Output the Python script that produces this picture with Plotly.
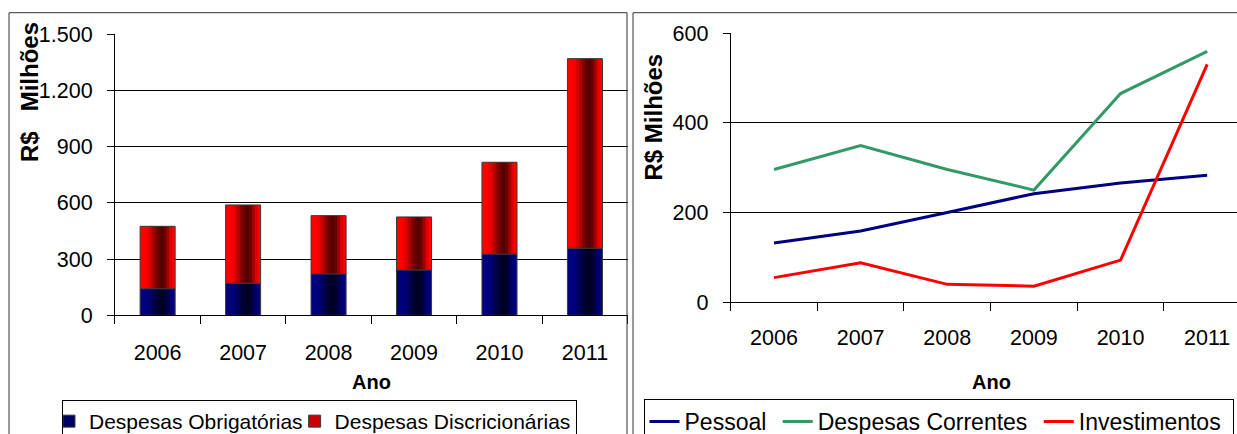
import plotly.graph_objects as go

# ---------------- data ----------------
years = ["2006", "2007", "2008", "2009", "2010", "2011"]
obrigatorias = [142, 171, 221, 242, 327, 358]
discricionarias = [333, 418, 311, 283, 490, 1012]

pessoal = [132, 159, 200, 242, 266, 283]
correntes = [296, 349, 296, 250, 465, 559]
investimentos = [55, 88, 40, 36, 94, 530]

left_yticks = [0, 300, 600, 900, 1200, 1500]
right_yticks = [0, 200, 400, 600]

# ---------------- style ----------------
W, H = 1237, 434
FONT = "Liberation Sans, Arial, sans-serif"
BAR_W = 0.41
N_STRIPS = 12
NBSP = "\u00a0"


def lerp(c1, c2, t):
    return "rgb(%d,%d,%d)" % tuple(round(a + (b - a) * t) for a, b in zip(c1, c2))


def darkness(p):
    peak = 0.63
    half = 0.5 if p < peak else 0.34
    t = 1 - abs(p - peak) / half
    t = max(0.0, min(1.0, t))
    return t * t * (3 - 2 * t)


BLUE_EDGE, BLUE_DARK = (0, 0, 128), (0, 0, 36)
RED_EDGE, RED_DARK = (255, 0, 0), (85, 0, 0)

fig = go.Figure()


def add_gradient_bar(values, base, name, edge, dark):
    step = BAR_W / N_STRIPS
    for k in range(N_STRIPS):
        p = (k + 0.5) / N_STRIPS
        col = lerp(edge, dark, darkness(p))
        wk = step * 1.6 if k < N_STRIPS - 1 else step
        fig.add_trace(go.Bar(
            x=years, y=values, base=base,
            width=wk, offset=-BAR_W / 2 + k * step,
            marker=dict(color=col, line=dict(width=0)),
            name=name, legendgroup=name, showlegend=False,
            xaxis="x", yaxis="y", hoverinfo="skip",
        ))
    # outline of the whole bar segment
    fig.add_trace(go.Bar(
        x=years, y=values, base=base, width=BAR_W, offset=-BAR_W / 2,
        marker=dict(color="rgba(0,0,0,0)", line=dict(width=1, color="#3a3a3a")),
        name=name, legendgroup=name, showlegend=False,
        xaxis="x", yaxis="y",
    ))
    # legend entry (invisible on the plot)
    fig.add_trace(go.Bar(
        x=years, y=values, base=base, width=BAR_W, offset=-BAR_W / 2,
        marker=dict(color=lerp(edge, dark, 0.3), line=dict(width=1, color="#3a3a3a"),
                    opacity=0.0),
        name=name, legendgroup=name, showlegend=True, legend="legend",
        xaxis="x", yaxis="y", hoverinfo="skip",
    ))


add_gradient_bar(obrigatorias, [0] * len(years), "Despesas Obrigatórias", BLUE_EDGE, BLUE_DARK)
add_gradient_bar(discricionarias, obrigatorias, "Despesas Discricionárias", RED_EDGE, RED_DARK)

line_series = [
    (pessoal, "Pessoal", "#000080", 1),
    (correntes, "Despesas Correntes", "#339966", 1),
    (investimentos, "Investimentos", "#FF0000", 1),
]
for vals, name, color, pad in line_series:
    fig.add_trace(go.Scatter(
        x=years, y=vals, mode="lines", name=name + NBSP * pad,
        line=dict(color=color, width=3),
        xaxis="x2", yaxis="y2", legend="legend2",
    ))

axis_common = dict(
    showline=True, linecolor="black", linewidth=1,
    ticks="outside", tickcolor="black", tickwidth=1,
    tickfont=dict(family=FONT, size=21.5, color="black"),
)

fig.update_layout(
    width=W, height=H,
    margin=dict(l=0, r=0, t=0, b=0, autoexpand=False),
    paper_bgcolor="white", plot_bgcolor="white",
    separators=",.",
    barmode="overlay",
    font=dict(family=FONT, color="black"),
    xaxis=dict(domain=[114.9 / W, 627.7 / W], anchor="y", type="category",
               range=[-0.5, 5.5], tickson="boundaries", ticklen=8,
               showgrid=False, ticklabelstandoff=18, **axis_common),
    yaxis=dict(domain=[1 - 315.3 / H, 1 - 34.3 / H], anchor="x",
               range=[0, 1500], tickvals=left_yticks, separatethousands=True,
               ticklen=7, showgrid=True, gridcolor="black", gridwidth=1,
               zeroline=False, ticklabelstandoff=10, **axis_common),
    xaxis2=dict(domain=[730.7 / W, 1.0], anchor="y2", type="category",
                range=[-0.5, 5.5 - (1250.5 - W) / 86.6], tickson="boundaries",
                ticklen=8, showgrid=False, ticklabelstandoff=16, **axis_common),
    yaxis2=dict(domain=[1 - 302.3 / H, 1 - 33 / H], anchor="x2",
                range=[0, 600], tickvals=right_yticks,
                ticklen=7, showgrid=True, gridcolor="black", gridwidth=1,
                zeroline=False, ticklabelstandoff=10, **axis_common),
    legend=dict(orientation="h", x=62 / W, y=1 - 400 / H, xanchor="left", yanchor="top",
                bordercolor="black", borderwidth=1, bgcolor="white",
                font=dict(family=FONT, size=21, color="black"), indentation=-13),
    legend2=dict(orientation="h", x=643.5 / W, y=1 - 399 / H, xanchor="left", yanchor="top",
                 bordercolor="black", borderwidth=1, bgcolor="white",
                 font=dict(family=FONT, size=23, color="black")),
    showlegend=True,
)

# panel frames
fig.add_shape(type="rect", xref="paper", yref="paper",
              x0=9 / W, x1=627 / W, y0=-0.1, y1=1 - 12.7 / H,
              line=dict(color="#333333", width=1), layer="above")
fig.add_shape(type="rect", xref="paper", yref="paper",
              x0=633 / W, x1=1.05, y0=-0.1, y1=1 - 12.7 / H,
              line=dict(color="#333333", width=1), layer="above")

# axis titles
title_font_v = dict(family=FONT, size=24, color="black")
title_font_h = dict(family=FONT, size=20, color="black")
fig.add_annotation(text="<b>R$\u00a0\u00a0\u00a0Milhões</b>", xref="paper", yref="paper",
                   x=30 / W, y=1 - 92 / H, textangle=-90, showarrow=False,
                   font=title_font_v, xanchor="center", yanchor="middle")
fig.add_annotation(text="<b>R$ Milhões</b>", xref="paper", yref="paper",
                   x=653 / W, y=1 - 117.5 / H, textangle=-90, showarrow=False,
                   font=title_font_v, xanchor="center", yanchor="middle")
fig.add_annotation(text="<b>Ano</b>", xref="paper", yref="paper",
                   x=371 / W, y=1 - 382 / H, showarrow=False,
                   font=title_font_h, xanchor="center", yanchor="middle")
fig.add_annotation(text="<b>Ano</b>", xref="paper", yref="paper",
                   x=991 / W, y=1 - 382 / H, showarrow=False,
                   font=title_font_h, xanchor="center", yanchor="middle")

fig.write_html("out.html")
